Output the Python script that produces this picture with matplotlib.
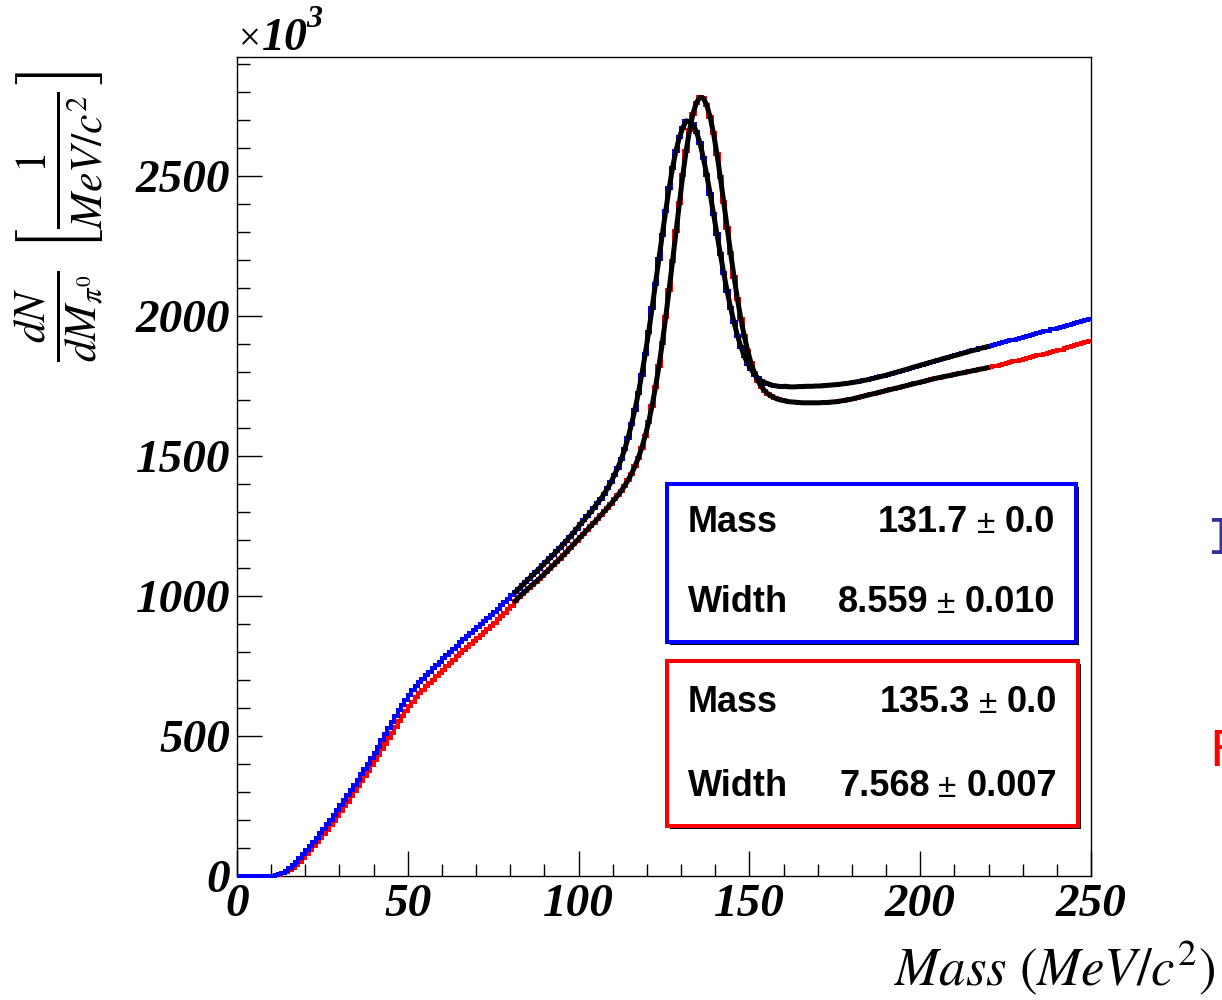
import numpy as np
import matplotlib
matplotlib.use('Agg')
import matplotlib.pyplot as plt
from matplotlib.font_manager import FontProperties
from matplotlib.patches import Rectangle
from matplotlib.text import Annotation
from matplotlib.ticker import MultipleLocator

# pi0 invariant mass, 1 MeV bins from 0 to 250, counts in units of 10^3
blue_counts = [
    0, 0, 0, 0, 0, 0, 0, 0, 0, 0,
    1, 3, 7, 12, 19, 28, 38, 50, 63, 78,
    94, 108, 122, 137, 152, 168, 184, 200, 217, 234,
    252, 270, 288, 306, 325, 344, 363, 382, 401, 420,
    440, 462, 484, 506, 528, 550, 571, 592, 612, 630,
    647, 663, 678, 692, 705, 718, 730, 742, 754, 766,
    778, 790, 801, 812, 823, 834, 845, 856, 867, 878,
    889, 900, 911, 922, 933, 944, 955, 967, 979, 991,
    1002, 1014, 1026, 1038, 1050, 1062, 1074, 1086, 1098, 1110,
    1122, 1134, 1146, 1159, 1172, 1185, 1198, 1212, 1226, 1241,
    1256, 1270, 1285, 1299, 1315, 1332, 1347, 1365, 1385, 1407,
    1433, 1458, 1489, 1524, 1566, 1614, 1666, 1725, 1791, 1864,
    1942, 2027, 2115, 2204, 2291, 2375, 2456, 2529, 2590, 2638,
    2672, 2697, 2693, 2684, 2658, 2619, 2566, 2505, 2437, 2366,
    2293, 2221, 2152, 2088, 2029, 1977, 1930, 1890, 1857, 1830,
    1810, 1791, 1778, 1768, 1762, 1758, 1753, 1751, 1749, 1748,
    1749, 1747, 1747, 1747, 1748, 1748, 1749, 1749, 1749, 1750,
    1750, 1751, 1752, 1753, 1754, 1755, 1756, 1758, 1759, 1761,
    1763, 1765, 1767, 1770, 1772, 1775, 1778, 1781, 1784, 1787,
    1790, 1794, 1797, 1801, 1804, 1808, 1811, 1815, 1819, 1822,
    1826, 1829, 1833, 1836, 1840, 1843, 1847, 1850, 1853, 1857,
    1860, 1863, 1867, 1870, 1874, 1877, 1880, 1884, 1887, 1890,
    1893, 1896, 1900, 1903, 1906, 1910, 1913, 1916, 1919, 1922,
    1925, 1929, 1932, 1935, 1939, 1942, 1945, 1948, 1952, 1955,
    1958, 1961, 1965, 1968, 1971, 1975, 1978, 1982, 1986, 1990,
]

red_counts = [
    0, 0, 0, 0, 0, 0, 0, 0, 0, 0,
    0, 2, 5, 9, 15, 22, 30, 40, 51, 64,
    78, 92, 106, 120, 135, 150, 166, 182, 198, 215,
    232, 249, 266, 284, 302, 320, 338, 357, 376, 395,
    414, 433, 452, 472, 492, 512, 532, 552, 571, 590,
    607, 623, 638, 652, 665, 677, 689, 701, 713, 725,
    737, 749, 761, 773, 784, 795, 806, 817, 828, 839,
    850, 861, 872, 883, 894, 905, 917, 929, 941, 953,
    966, 982, 995, 1007, 1018, 1029, 1040, 1051, 1062, 1073,
    1085, 1097, 1109, 1121, 1133, 1145, 1158, 1171, 1184, 1197,
    1210, 1223, 1236, 1249, 1262, 1275, 1288, 1302, 1316, 1330,
    1345, 1360, 1376, 1394, 1414, 1437, 1463, 1494, 1529, 1572,
    1621, 1679, 1745, 1820, 1903, 1996, 2094, 2197, 2302, 2405,
    2503, 2591, 2665, 2723, 2762, 2781, 2778, 2754, 2711, 2652,
    2579, 2495, 2406, 2315, 2225, 2140, 2060, 1990, 1928, 1876,
    1831, 1796, 1768, 1748, 1732, 1721, 1713, 1707, 1702, 1699,
    1697, 1694, 1693, 1692, 1691, 1690, 1690, 1690, 1690, 1690,
    1690, 1691, 1691, 1692, 1693, 1694, 1696, 1698, 1700, 1702,
    1705, 1708, 1711, 1714, 1717, 1720, 1723, 1726, 1729, 1732,
    1735, 1738, 1741, 1744, 1747, 1750, 1753, 1756, 1759, 1762,
    1765, 1768, 1771, 1774, 1777, 1780, 1782, 1785, 1787, 1790,
    1792, 1795, 1797, 1800, 1802, 1805, 1807, 1810, 1812, 1815,
    1817, 1820, 1823, 1826, 1829, 1832, 1835, 1838, 1841, 1844,
    1847, 1850, 1853, 1856, 1859, 1862, 1865, 1868, 1871, 1874,
    1877, 1880, 1884, 1888, 1892, 1896, 1900, 1904, 1908, 1912,
]

mass_lo, mass_hi = 0, 250
fit_lo, fit_hi = 81, 220

blue_stats = [('Mass', '131.7', '0.0'), ('Width', '8.559', '0.010')]
red_stats = [('Mass', '135.3', '0.0'), ('Width', '7.568', '0.007')]

W, H = 1222, 1000


def fx(x):
    return x / W


def fy(y):
    return 1 - y / H


def stat_box(fig, box, color, rows, right):
    x0, y0, x1, y1 = box
    shadow = Rectangle((fx(x0 + 3), fy(y1 + 3)), (x1 - x0) / W, (y1 - y0) / H,
                       transform=fig.transFigure, facecolor='black', edgecolor='none')
    frame = Rectangle((fx(x0), fy(y1)), (x1 - x0) / W, (y1 - y0) / H,
                      transform=fig.transFigure, facecolor='white', edgecolor=color,
                      linewidth=2.9)
    fig.add_artist(shadow)
    fig.add_artist(frame)
    bold = dict(fontsize=26, family='Liberation Sans', weight='bold')
    for (name, val, err), y in rows:
        fig.text(fx(688), fy(y), name, va='center', **bold)
        t_err = fig.text(fx(right), fy(y), err, ha='right', va='center', **bold)
        t_pm = Annotation('±', xy=(0, 0.5), xycoords=t_err, xytext=(-7, -1),
                          textcoords='offset points', ha='right', va='center',
                          fontsize=24, family='Liberation Sans', zorder=5)
        fig.add_artist(t_pm)
        t_val = Annotation(val, xy=(0, 0.5), xycoords=t_pm, xytext=(-6, 1),
                           textcoords='offset points', ha='right', va='center',
                           zorder=5, **bold)
        fig.add_artist(t_val)


def main():
    plt.rcParams['mathtext.fontset'] = 'stix'
    root_font = dict(family='Liberation Serif', weight='bold', style='italic')
    tick_font = FontProperties(size=34, **root_font)

    fig = plt.figure(figsize=(W / 100, H / 100), dpi=100)
    ax = fig.add_axes([fx(237), fy(876), 854 / W, 819 / H])

    edges = np.arange(mass_lo, mass_hi + 1)
    centers = edges[:-1] + 0.5
    ax.stairs(red_counts, edges, baseline=None, color='red', linewidth=2.9,
              clip_on=False, zorder=3)
    ax.stairs(blue_counts, edges, baseline=None, color='blue', linewidth=2.9,
              clip_on=False, zorder=3)

    # fitted curves over the peak region
    m = (centers > fit_lo) & (centers < fit_hi)
    ax.plot(centers[m], np.array(blue_counts)[m], color='black', linewidth=3.6, zorder=4)
    ax.plot(centers[m], np.array(red_counts)[m], color='black', linewidth=3.6, zorder=4)

    ax.set_xlim(mass_lo, mass_hi)
    ax.set_ylim(0, 2925)
    ax.xaxis.set_major_locator(MultipleLocator(50))
    ax.xaxis.set_minor_locator(MultipleLocator(10))
    ax.yaxis.set_major_locator(MultipleLocator(500))
    ax.yaxis.set_minor_locator(MultipleLocator(100))
    ax.tick_params(which='both', direction='in', top=False, right=False, width=1)
    ax.tick_params(which='major', length=18)
    ax.tick_params(which='minor', length=9)
    ax.tick_params(axis='x', pad=6)
    ax.tick_params(axis='y', pad=5)
    for lbl in ax.get_xticklabels() + ax.get_yticklabels():
        lbl.set_fontproperties(tick_font)
    for s in ax.spines.values():
        s.set_linewidth(1)

    # x10^3 multiplier
    fig.text(fx(239), fy(50), '×', fontsize=28, family='Liberation Serif')
    fig.text(fx(262), fy(50), '10', fontsize=33, **root_font)
    fig.text(fx(306), fy(27), '3', fontsize=23, **root_font)

    fig.text(fx(1216), fy(968), r'$Mass\ (MeV/c^{2})$', ha='right', va='center',
             fontsize=38)
    fig.text(fx(60), fy(217), r'$\frac{dN}{dM_{\pi^0}}\ \left[\frac{1}{MeV/c^2}\right]$',
             rotation=90, ha='center', va='center', fontsize=45)

    stat_box(fig, (667, 484, 1076, 642), 'blue', list(zip(blue_stats, [523, 603])), 1055)
    stat_box(fig, (667, 661, 1078, 826), 'red', list(zip(red_stats, [703, 787])), 1057)

    fig.text(fx(1206), fy(540), 'I', color='#333399', family='DejaVu Sans Mono',
             fontsize=36, va='center')
    fig.text(fx(1208), fy(752), 'F', color='red', family='DejaVu Sans Mono',
             fontsize=36, va='center')

    fig.savefig('out.png', dpi=100)


if __name__ == '__main__':
    main()
